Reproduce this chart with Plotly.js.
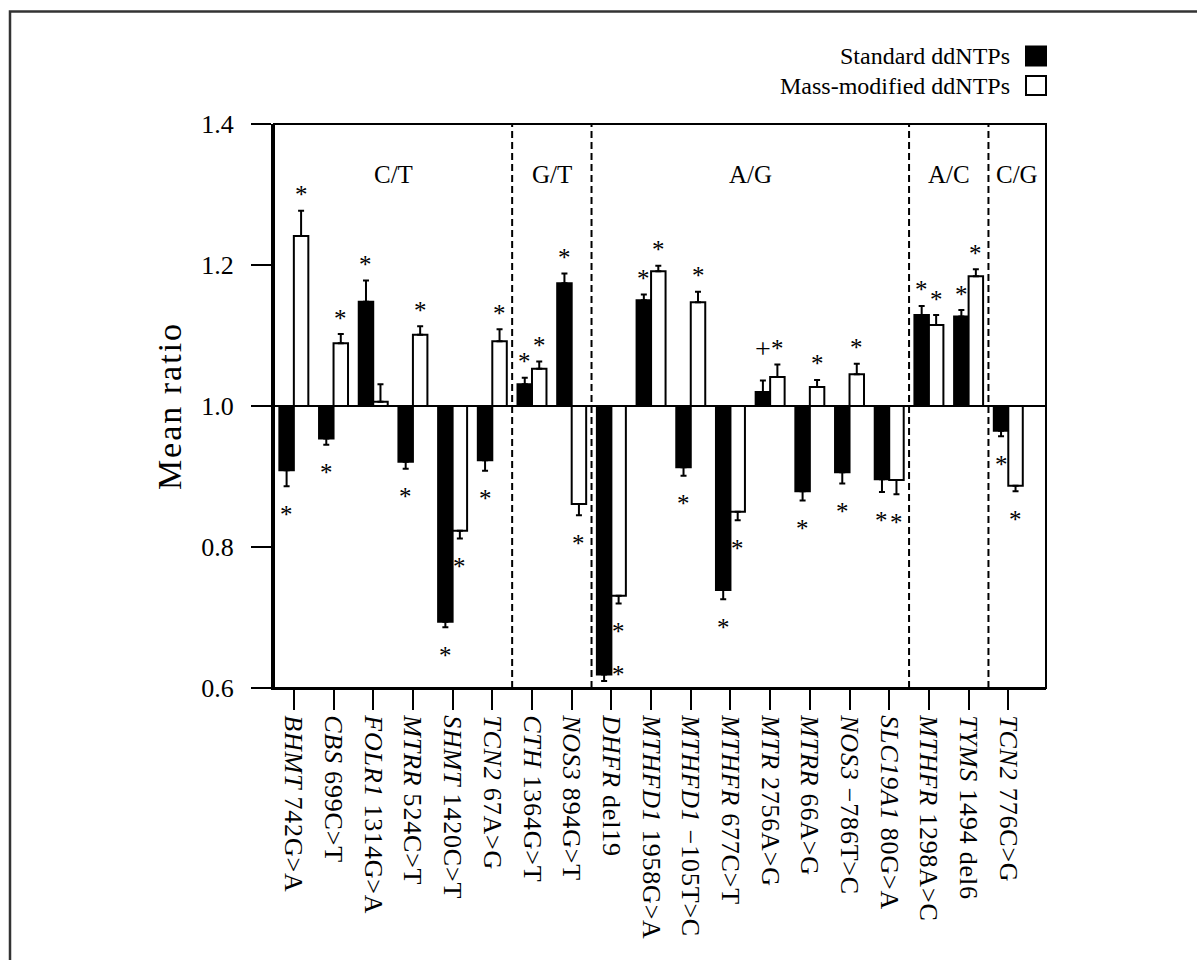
<!DOCTYPE html>
<html><head><meta charset="utf-8">
<script src="https://cdn.plot.ly/plotly-3.0.1.min.js"></script>
<style>html,body{margin:0;padding:0;background:#fff}#chart{width:1197px;height:960px}
.ytitle{letter-spacing:2px}
.xtick text{letter-spacing:0.8px}</style>
</head><body><div id="chart"></div>
<script>
// ---- data ----
const genes = ['BHMT','CBS','FOLR1','MTRR','SHMT','TCN2','CTH','NOS3','DHFR','MTHFD1','MTHFD1','MTHFR','MTR','MTRR','NOS3','SLC19A1','MTHFR','TYMS','TCN2'];
const variants = ['742G>A','699C>T','1314G>A','524C>T','1420C>T','67A>G','1364G>T','894G>T','del19','1958G>A','\u2212105T>C','677C>T','2756A>G','66A>G','\u2212786T>C','80G>A','1298A>C','1494 del6','776C>G'];
const stdMean  = [0.909,0.954,1.148,0.921,0.694,0.923,1.031,1.174,0.619,1.150,0.913,0.739,1.020,0.879,0.906,0.896,1.129,1.127,0.965];
const stdErr   = [0.023,0.009,0.030,0.010,0.008,0.015,0.009,0.014,0.009,0.008,0.012,0.013,0.016,0.013,0.016,0.018,0.013,0.009,0.008];
const massMean = [1.241,1.089,1.006,1.101,0.823,1.092,1.053,0.861,0.731,1.191,1.147,0.850,1.041,1.027,1.045,0.895,1.115,1.184,0.887];
const massErr  = [0.036,0.013,0.025,0.012,0.011,0.017,0.010,0.016,0.011,0.008,0.015,0.012,0.018,0.010,0.015,0.020,0.014,0.010,0.008];
const stdSig   = ['*','*','*','*','*','*','*','*','*','*','*','*','+','*','*','*','*','*','*'];
const massSig  = ['*','*','','*','*','*','*','*','*','*','*','*','*','*','*','*','*','*','*'];
const groupLabels = ['C/T','G/T','A/G','A/C','C/G'];
const groupSizes  = [6,2,8,2,1];
const seriesNames = ['Standard ddNTPs','Mass-modified ddNTPs'];
const yTicks = [0.6,0.8,1.0,1.2,1.4];

// ---- layout constants ----
const FONT = 'Liberation Serif, Times New Roman, serif';
const ML = 274, MR = 151, MT = 124, MB = 272, W = 1197, H = 960;
const plotW = W - ML - MR, plotH = H - MT - MB;
const yRange = [0.6, 1.4];
const xRange = [-0.5, 18.95];
const pxPerY = plotH / (yRange[1] - yRange[0]);
const bargap = 0.27;
const off = (1 - bargap) / 4;
const idx = genes.map((g, i) => i);
const ticktext = genes.map((g, i) => '<i>' + g + '</i> ' + variants[i].replace('>', '&gt;'));

function barTrace(name, vals, errs, fill) {
  return {
    type: 'bar', name: name, x: idx, y: vals.map(v => v - 1), base: 1,
    marker: {color: fill, line: {color: '#000', width: 2}},
    error_y: {type: 'data', symmetric: false,
      array: vals.map((v, i) => v >= 1 ? errs[i] : 0),
      arrayminus: vals.map((v, i) => v < 1 ? errs[i] : 0),
      color: '#000', thickness: 2, width: 3},
    showlegend: false, hoverinfo: 'skip'
  };
}
const traces = [barTrace(seriesNames[0], stdMean, stdErr, '#000'),
                barTrace(seriesNames[1], massMean, massErr, '#fff')];

// significance marks
const annotations = [];
const D = 22;
function addMarks(vals, errs, sigs, dx) {
  vals.forEach((v, i) => {
    const s = sigs[i];
    if (!s) return;
    const pos = v >= 1;
    const end = pos ? v + errs[i] : v - errs[i];
    const glyph = s === '*' ? 6 : 0;
    const size = s === '*' ? 25 : 28;
    let x = i + dx, yshift;
    if (!pos && end - (D + 10) / pxPerY < yRange[0]) {
      x = i + dx + 2 * off;
      yshift = 12 - glyph;
    } else {
      yshift = pos ? (s === '*' ? D - glyph : D + 10) : -(D + glyph);
    }
    annotations.push({x: x, y: end, xref: 'x', yref: 'y', text: s, showarrow: false,
      yanchor: 'middle', xanchor: 'center', yshift: yshift,
      font: {family: FONT, size: size, color: '#000'}});
  });
}
addMarks(stdMean, stdErr, stdSig, -off);
addMarks(massMean, massErr, massSig, off);

// group separators and labels
const shapes = [];
let start = 0;
groupSizes.forEach((n, g) => {
  const lo = g === 0 ? xRange[0] : start - 0.5;
  const hi = g === groupSizes.length - 1 ? xRange[1] : start + n - 0.5;
  annotations.push({x: (lo + hi) / 2, y: 1.328, xref: 'x', yref: 'y', text: groupLabels[g],
    showarrow: false, font: {family: FONT, size: 25, color: '#000'}});
  if (g > 0) shapes.push({type: 'line', xref: 'x', yref: 'paper', x0: start - 0.5, x1: start - 0.5, y0: 0, y1: 1,
    line: {color: '#000', width: 2, dash: '7px,4px'}});
  start += n;
});
// baseline at 1.0
shapes.push({type: 'line', xref: 'paper', yref: 'y', x0: 0, x1: 1, y0: 1, y1: 1, line: {color: '#000', width: 2}});
// plot frame
shapes.push({type: 'rect', xref: 'paper', yref: 'paper', x0: 0, x1: 1, y0: 0, y1: 1, line: {color: '#000', width: 2}});
// outer figure frame
const px2x = p => (p - ML) / plotW, py2y = p => (H - MB - p) / plotH;
shapes.push({type: 'rect', xref: 'paper', yref: 'paper', x0: px2x(10), x1: px2x(1210), y0: py2y(975), y1: py2y(11.5),
  line: {color: '#333', width: 2.5}});
// legend
const legY = [56, 85.5];
seriesNames.forEach((nm, k) => {
  annotations.push({x: px2x(1012), y: py2y(legY[k]), xref: 'paper', yref: 'paper', text: nm, showarrow: false,
    xanchor: 'right', yanchor: 'middle', font: {family: FONT, size: 24, color: '#000'}});
  shapes.push({type: 'rect', xref: 'paper', yref: 'paper', x0: px2x(1026), x1: px2x(1046),
    y0: py2y(legY[k] + 9.5), y1: py2y(legY[k] - 9.5),
    fillcolor: k === 0 ? '#000' : '#fff', line: {color: '#000', width: 2}});
});

const layout = {
  width: W, height: H, margin: {l: ML, r: MR, t: MT, b: MB},
  paper_bgcolor: '#fff', plot_bgcolor: '#fff',
  barmode: 'group', bargap: bargap, bargroupgap: 0,
  showlegend: false,
  font: {family: FONT, color: '#000'},
  xaxis: {range: xRange, tickmode: 'array', tickvals: idx, ticktext: ticktext, tickangle: 90,
    ticks: 'outside', ticklen: 20, tickwidth: 2, tickcolor: '#000',
    showline: true, linewidth: 2, linecolor: '#000', showgrid: false, zeroline: false,
    tickfont: {family: FONT, size: 26, color: '#000'}, automargin: false, fixedrange: true},
  yaxis: {range: yRange, tickmode: 'array', tickvals: yTicks, ticktext: yTicks.map(v => v.toFixed(1)),
    ticks: 'outside', ticklen: 20, tickwidth: 2, tickcolor: '#000', ticklabelstandoff: 12,
    showline: true, linewidth: 3, linecolor: '#000', showgrid: false, zeroline: false,
    tickfont: {family: FONT, size: 26, color: '#000'},
    title: {text: 'Mean ratio', font: {family: FONT, size: 34, color: '#000'}, standoff: 10},
    automargin: false, fixedrange: true},
  shapes: shapes, annotations: annotations
};
Plotly.newPlot('chart', traces, layout, {displayModeBar: false, staticPlot: true});
</script></body></html>
